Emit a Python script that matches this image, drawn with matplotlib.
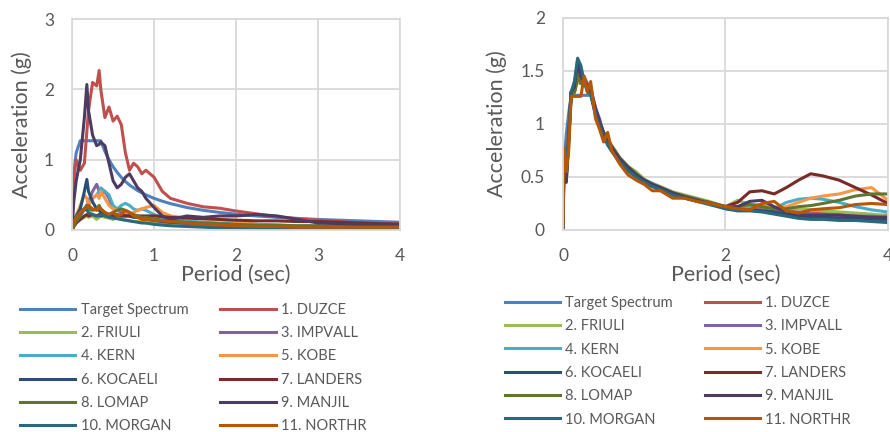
import numpy as np
import matplotlib
matplotlib.use("Agg")
import matplotlib.pyplot as plt

plt.rcParams['font.family'] = ['Lato', 'DejaVu Sans']

names = ['Target Spectrum', '1. DUZCE', '2. FRIULI', '3. IMPVALL', '4. KERN', '5. KOBE',
         '6. KOCAELI', '7. LANDERS', '8. LOMAP', '9. MANJIL', '10. MORGAN', '11. NORTHR']
colors = ['#4F81BD', '#C0504D', '#9BBB59', '#8064A2', '#4BACC6', '#F79646',
          '#2C4D75', '#772C2A', '#5F7530', '#4D3B62', '#276A7C', '#B65708']

# ---- unscaled spectra (left) ----
T1 = [0, 0.02, 0.05, 0.1, 0.15, 0.18, 0.2, 0.25, 0.3, 0.33, 0.35, 0.4, 0.45, 0.5, 0.55, 0.6,
      0.65, 0.7, 0.75, 0.8, 0.85, 0.9, 1.0, 1.1, 1.2, 1.4, 1.6, 1.8, 2.0, 2.25, 2.5, 2.75,
      3.0, 3.25, 3.5, 3.75, 4.0]
target1 = [0.5, 0.8, 1.1, 1.27, 1.27, 1.27, 1.27, 1.27, 1.27, 1.27, 1.27, 1.12, 1.0, 0.9, 0.82, 0.75,
           0.69, 0.64, 0.6, 0.56, 0.53, 0.5, 0.45, 0.41, 0.375, 0.32, 0.28, 0.25, 0.225, 0.2, 0.18, 0.165,
           0.15, 0.14, 0.13, 0.12, 0.11]
duzce1 = [0.4, 0.7, 1.0, 0.85, 0.95, 1.4, 1.7, 2.1, 2.05, 2.27, 2.0, 1.6, 1.75, 1.55, 1.62, 1.5,
          1.1, 0.85, 0.95, 0.9, 0.8, 0.85, 0.75, 0.55, 0.45, 0.38, 0.33, 0.31, 0.27, 0.23, 0.19, 0.16,
          0.14, 0.12, 0.1, 0.09, 0.09]
friuli1 = [0, 0.05, 0.1, 0.15, 0.18, 0.2, 0.18, 0.2, 0.15, 0.18, 0.2, 0.18, 0.17, 0.15, 0.18, 0.15,
           0.14, 0.13, 0.12, 0.12, 0.11, 0.1, 0.09, 0.08, 0.07, 0.06, 0.05, 0.04, 0.04, 0.03, 0.03, 0.03,
           0.02, 0.02, 0.02, 0.02, 0.02]
impvall1 = [0, 0.1, 0.15, 0.25, 0.3, 0.35, 0.4, 0.55, 0.65, 0.55, 0.5, 0.55, 0.45, 0.3, 0.28, 0.25,
            0.22, 0.2, 0.2, 0.18, 0.16, 0.15, 0.13, 0.12, 0.11, 0.09, 0.08, 0.07, 0.06, 0.05, 0.05, 0.05,
            0.04, 0.04, 0.04, 0.04, 0.04]
kern1 = [0, 0.05, 0.1, 0.2, 0.3, 0.35, 0.4, 0.45, 0.5, 0.55, 0.6, 0.55, 0.5, 0.35, 0.3, 0.35,
         0.38, 0.35, 0.3, 0.28, 0.3, 0.28, 0.22, 0.18, 0.15, 0.13, 0.11, 0.1, 0.09, 0.08, 0.07, 0.06,
         0.06, 0.05, 0.05, 0.05, 0.05]
kobe1 = [0, 0.1, 0.2, 0.35, 0.5, 0.45, 0.35, 0.45, 0.5, 0.45, 0.55, 0.45, 0.35, 0.3, 0.28, 0.3,
         0.25, 0.22, 0.25, 0.28, 0.3, 0.32, 0.35, 0.25, 0.2, 0.17, 0.16, 0.15, 0.12, 0.08, 0.06, 0.05,
         0.04, 0.04, 0.03, 0.03, 0.03]
kocaeli1 = [0, 0.1, 0.2, 0.3, 0.55, 0.72, 0.55, 0.4, 0.3, 0.28, 0.25, 0.22, 0.2, 0.2, 0.2, 0.2,
            0.2, 0.2, 0.18, 0.18, 0.17, 0.16, 0.14, 0.12, 0.11, 0.1, 0.08, 0.07, 0.06, 0.05, 0.05, 0.04,
            0.04, 0.04, 0.04, 0.04, 0.04]
landers1 = [0, 0.05, 0.1, 0.15, 0.2, 0.22, 0.2, 0.22, 0.2, 0.22, 0.2, 0.22, 0.2, 0.2, 0.22, 0.2,
            0.2, 0.2, 0.2, 0.2, 0.2, 0.2, 0.2, 0.19, 0.18, 0.17, 0.16, 0.15, 0.14, 0.13, 0.13, 0.12,
            0.12, 0.11, 0.1, 0.09, 0.08]
lomap1 = [0, 0.05, 0.12, 0.2, 0.3, 0.35, 0.3, 0.28, 0.3, 0.35, 0.3, 0.25, 0.22, 0.25, 0.28, 0.3,
          0.28, 0.25, 0.22, 0.2, 0.18, 0.18, 0.16, 0.14, 0.13, 0.11, 0.1, 0.09, 0.08, 0.07, 0.07, 0.06,
          0.06, 0.05, 0.05, 0.05, 0.05]
manjil1 = [0, 0.4, 0.7, 1.0, 1.6, 2.07, 1.7, 1.35, 1.2, 1.22, 1.25, 1.2, 0.95, 0.7, 0.6, 0.65,
           0.75, 0.8, 0.7, 0.6, 0.55, 0.45, 0.32, 0.2, 0.15, 0.2, 0.18, 0.2, 0.2, 0.22, 0.2, 0.15,
           0.1, 0.09, 0.08, 0.08, 0.08]
morgan1 = [0, 0.1, 0.2, 0.25, 0.3, 0.28, 0.25, 0.22, 0.2, 0.2, 0.22, 0.2, 0.18, 0.17, 0.16, 0.15,
           0.14, 0.13, 0.12, 0.11, 0.1, 0.1, 0.08, 0.07, 0.06, 0.05, 0.04, 0.03, 0.03, 0.02, 0.02, 0.02,
           0.02, 0.02, 0.02, 0.02, 0.02]
northr1 = [0, 0.1, 0.18, 0.25, 0.3, 0.32, 0.35, 0.3, 0.28, 0.32, 0.3, 0.25, 0.22, 0.25, 0.2, 0.22,
           0.28, 0.25, 0.2, 0.18, 0.15, 0.15, 0.14, 0.13, 0.12, 0.1, 0.08, 0.07, 0.06, 0.05, 0.05, 0.04,
           0.04, 0.04, 0.04, 0.04, 0.04]

# ---- scaled spectra (right) ----
T2 = [0, 0.01, 0.04, 0.07, 0.1, 0.14, 0.18, 0.22, 0.26, 0.3, 0.34, 0.4, 0.45, 0.5, 0.55, 0.6,
      0.7, 0.8, 0.9, 1.0, 1.1, 1.2, 1.35, 1.5, 1.65, 1.8, 2.0, 2.15, 2.3, 2.45, 2.6, 2.75,
      2.9, 3.05, 3.2, 3.4, 3.6, 3.8, 4.0]
target2 = [0.5, 0.6, 0.9, 1.1, 1.27, 1.27, 1.27, 1.27, 1.27, 1.27, 1.27, 1.12, 1.0, 0.9, 0.82, 0.75,
           0.64, 0.56, 0.5, 0.45, 0.41, 0.375, 0.33, 0.3, 0.27, 0.25, 0.225, 0.21, 0.2, 0.18, 0.17, 0.16,
           0.155, 0.15, 0.14, 0.13, 0.125, 0.12, 0.11]
duzce2 = [0, 0.7, 0.6, 0.95, 1.3, 1.3, 1.45, 1.4, 1.42, 1.35, 1.3, 1.15, 1.02, 0.9, 0.84, 0.78,
          0.66, 0.58, 0.52, 0.47, 0.43, 0.4, 0.35, 0.32, 0.29, 0.26, 0.21, 0.2, 0.2, 0.2, 0.19, 0.18,
          0.17, 0.16, 0.16, 0.15, 0.14, 0.14, 0.14]
friuli2 = [0, 0.5, 0.45, 0.8, 1.25, 1.3, 1.4, 1.38, 1.4, 1.32, 1.28, 1.1, 1.0, 0.92, 0.86, 0.8,
           0.68, 0.6, 0.55, 0.48, 0.44, 0.41, 0.36, 0.33, 0.3, 0.27, 0.22, 0.28, 0.24, 0.22, 0.21, 0.2,
           0.2, 0.19, 0.18, 0.17, 0.16, 0.15, 0.13]
impvall2 = [0, 0.65, 0.5, 0.85, 1.3, 1.32, 1.5, 1.42, 1.45, 1.38, 1.35, 1.15, 1.05, 0.9, 0.85, 0.78,
            0.67, 0.59, 0.53, 0.47, 0.43, 0.4, 0.35, 0.32, 0.29, 0.26, 0.2, 0.19, 0.19, 0.18, 0.17, 0.16,
            0.15, 0.15, 0.14, 0.14, 0.13, 0.13, 0.12]
kern2 = [0, 0.6, 0.55, 0.9, 1.27, 1.3, 1.45, 1.4, 1.4, 1.35, 1.3, 1.12, 1.0, 0.9, 0.83, 0.77,
         0.66, 0.59, 0.52, 0.47, 0.44, 0.4, 0.35, 0.32, 0.29, 0.25, 0.21, 0.2, 0.22, 0.22, 0.2, 0.26,
         0.29, 0.3, 0.29, 0.26, 0.22, 0.19, 0.17]
kobe2 = [0, 0.7, 0.6, 0.9, 1.27, 1.3, 1.42, 1.38, 1.4, 1.33, 1.3, 1.1, 1.0, 0.88, 0.82, 0.76,
         0.65, 0.57, 0.5, 0.46, 0.42, 0.39, 0.35, 0.32, 0.29, 0.26, 0.22, 0.22, 0.24, 0.24, 0.21, 0.22,
         0.26, 0.3, 0.32, 0.34, 0.38, 0.4, 0.28]
kocaeli2 = [0, 0.55, 0.5, 0.85, 1.3, 1.35, 1.58, 1.45, 1.4, 1.35, 1.3, 1.1, 1.0, 0.9, 0.82, 0.76,
            0.65, 0.57, 0.51, 0.46, 0.42, 0.39, 0.34, 0.31, 0.28, 0.25, 0.21, 0.19, 0.19, 0.18, 0.17, 0.15,
            0.13, 0.12, 0.12, 0.11, 0.11, 0.1, 0.1]
landers2 = [0, 0.7, 0.55, 0.9, 1.28, 1.3, 1.45, 1.4, 1.42, 1.35, 1.3, 1.12, 1.02, 0.9, 0.83, 0.76,
            0.66, 0.58, 0.52, 0.47, 0.43, 0.39, 0.35, 0.31, 0.28, 0.26, 0.22, 0.26, 0.36, 0.37, 0.34, 0.4,
            0.47, 0.53, 0.51, 0.47, 0.4, 0.33, 0.25]
lomap2 = [0, 0.6, 0.5, 0.85, 1.27, 1.3, 1.45, 1.38, 1.42, 1.33, 1.3, 1.12, 1.02, 0.92, 0.85, 0.79,
          0.68, 0.6, 0.53, 0.47, 0.43, 0.4, 0.35, 0.32, 0.29, 0.26, 0.22, 0.22, 0.24, 0.22, 0.2, 0.2,
          0.22, 0.23, 0.25, 0.28, 0.32, 0.34, 0.34]
manjil2 = [0, 0.5, 0.45, 0.85, 1.3, 1.35, 1.6, 1.45, 1.42, 1.35, 1.32, 1.15, 1.02, 0.92, 0.84, 0.78,
           0.67, 0.59, 0.52, 0.47, 0.43, 0.4, 0.35, 0.31, 0.28, 0.25, 0.21, 0.22, 0.27, 0.28, 0.22, 0.17,
           0.14, 0.14, 0.14, 0.14, 0.13, 0.12, 0.12]
morgan2 = [0, 0.6, 0.55, 0.9, 1.3, 1.4, 1.62, 1.55, 1.4, 1.3, 1.28, 1.08, 0.98, 0.88, 0.8, 0.74,
           0.64, 0.56, 0.5, 0.45, 0.41, 0.38, 0.33, 0.3, 0.27, 0.24, 0.2, 0.18, 0.18, 0.17, 0.15, 0.13,
           0.11, 0.1, 0.1, 0.09, 0.09, 0.08, 0.07]
northr2 = [0, 0.78, 0.55, 0.75, 1.26, 1.26, 1.26, 1.26, 1.45, 1.3, 1.4, 1.05, 0.95, 0.83, 0.92, 0.75,
           0.62, 0.52, 0.47, 0.43, 0.37, 0.37, 0.3, 0.3, 0.27, 0.25, 0.22, 0.2, 0.19, 0.25, 0.27, 0.18,
           0.16, 0.19, 0.2, 0.21, 0.24, 0.25, 0.24]

left_series = [target1, duzce1, friuli1, impvall1, kern1, kobe1, kocaeli1, landers1,
               lomap1, manjil1, morgan1, northr1]
right_series = [target2, duzce2, friuli2, impvall2, kern2, kobe2, kocaeli2, landers2,
                lomap2, manjil2, morgan2, northr2]

txt = '#595959'
grid = '#D9D9D9'

fig = plt.figure(figsize=(8.9, 4.32), dpi=100)
ax1 = fig.add_axes([0.081, 0.4676, 0.3685, 0.488])
ax2 = fig.add_axes([0.6326, 0.4676, 0.365, 0.491])


def style(ax, yticks, xticks, ylabx, ylim):
    ax.set_xlim(0, 4)
    ax.set_ylim(0, ylim)
    ax.set_xticks(xticks)
    ax.set_yticks(yticks)
    ax.set_xticklabels([f'{v:g}' for v in xticks])
    ax.set_yticklabels([f'{v:g}' for v in yticks])
    ax.grid(True, color=grid, lw=1.3)
    ax.set_axisbelow(True)
    for s in ax.spines.values():
        s.set_color(grid)
        s.set_linewidth(1.3)
    ax.tick_params(length=0, labelsize=12.5, labelcolor=txt, pad=13)
    ax.set_xlabel('Period (sec)', fontsize=15.5, color=txt)
    ax.set_ylabel('Acceleration (g)', fontsize=15.5, color=txt)
    ax.xaxis.set_label_coords(0.5, -0.165)
    ax.yaxis.set_label_coords(ylabx, 0.5)


style(ax1, [0, 1, 2, 3], [0, 1, 2, 3, 4], -0.122, 3)
style(ax2, [0, 0.5, 1, 1.5, 2], [0, 2, 4], -0.172, 2)

h1 = []
for vals, c, n in zip(left_series, colors, names):
    ln, = ax1.plot(T1, vals, color=c, lw=2.2, label=n, solid_joinstyle='round')
    h1.append(ln)
h2 = []
for vals, c, n in zip(right_series, colors, names):
    ln, = ax2.plot(T2, vals, color=c, lw=2.2, label=n, solid_joinstyle='round')
    h2.append(ln)

for h, x, y in [(h1, 0.0225, 0.299), (h2, 0.567, 0.315)]:
    order = h[0::2] + h[1::2]
    leg = fig.legend(order, [l.get_label() for l in order], loc='upper left',
                     bbox_to_anchor=(x, y), ncol=2, frameon=False, fontsize=10.5,
                     handlelength=3.8, handletextpad=0.35, columnspacing=2.2,
                     labelspacing=0.64, borderpad=0, borderaxespad=0)
    for t in leg.get_texts():
        t.set_color(txt)

fig.savefig('out.png', dpi=100)
